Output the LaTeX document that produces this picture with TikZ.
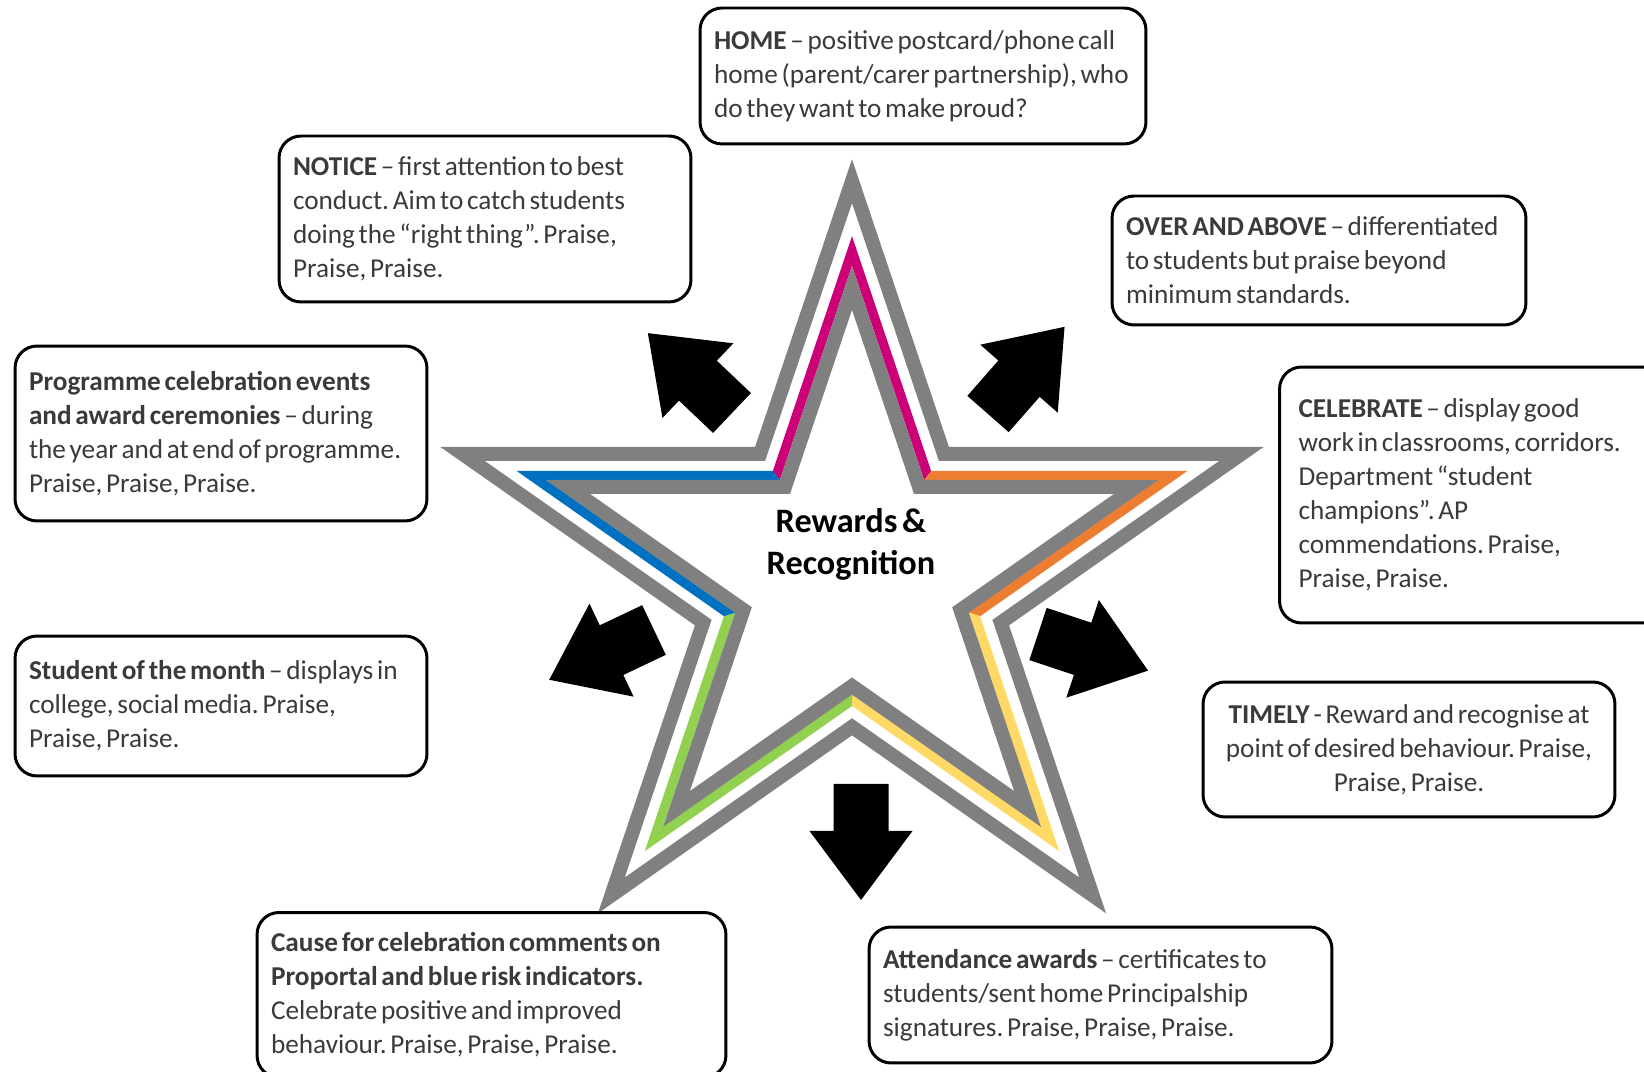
\documentclass[tikz,border=0pt]{standalone}
\usepackage{fontspec}
\setmainfont{Carlito}[WordSpace=0.6]
\frenchspacing
\hyphenpenalty=10000

\definecolor{starpink}{HTML}{CC0077}
\definecolor{starorange}{HTML}{ED7D31}
\definecolor{staryellow}{HTML}{FFD966}
\definecolor{stargreen}{HTML}{92D050}
\definecolor{starblue}{HTML}{0070C0}
\definecolor{stargrey}{HTML}{808080}
\definecolor{boxtext}{HTML}{3A3A3A}

\begin{document}
\begin{tikzpicture}[x=0.02cm,y=0.02cm]
\tikzset{
  infobox/.style={draw=black,line width=1.7pt,rounded corners=0.44cm,fill=white,align=flush left,inner xsep=0.28cm,inner ysep=0pt,text=boxtext,font={\fontsize{15.5}{19.4}\selectfont}},
  startext/.style={align=center,text=black,font={\fontsize{19.5}{23.8}\selectfont\bfseries}},
  starshape/.style={insert path={(90:#1) -- (126:{0.382*#1}) -- (162:#1) -- (198:{0.382*#1}) -- (234:#1) -- (270:{0.382*#1}) -- (306:#1) -- (342:{0.382*#1}) -- (18:#1) -- (54:{0.382*#1}) -- cycle}},
  starline/.style={draw=stargrey,line width=0.28cm,line join=miter},
  colourline/.style={draw=#1,line width=0.19cm,line join=miter},
  blockarrow/.style={fill=black,insert path={(0,-27.5) -- (47,-27.5) -- (47,-51.5) -- (116,0) -- (47,51.5) -- (47,27.5) -- (0,27.5) -- cycle}}
}
\fill[white] (0,0) rectangle (1644,1072);
\useasboundingbox (0,0) rectangle (1644,1072);
\begin{scope}[shift={(852,496)},xscale=1.037]
\draw[starline,starshape=394.8];
\foreach \tip/\col in {90/starpink,18/starorange,306/staryellow,234/stargreen,162/starblue}{
  \begin{scope}
    \clip (0,0) -- ({\tip-36}:700) -- (\tip:700) -- ({\tip+36}:700) -- cycle;
    \draw[colourline=\col,starshape=325];
  \end{scope}
}
\draw[starline,starshape=288];
\end{scope}
\fill[shift={(732,659)},rotate=136.5,blockarrow];
\fill[shift={(988,658)},rotate=48.7,blockarrow];
\fill[shift={(654,442)},rotate=205.4,blockarrow];
\fill[shift={(1038,438)},rotate=341.6,blockarrow];
\fill[shift={(861,288)},rotate=270,blockarrow];
\node[startext] (n_centre) at (851,528) {Rewards \&\\Recognition};
\node[infobox,minimum width=8.92cm,minimum height=2.72cm,text width=8.36cm] (n_home) at (923,996) {\textbf{HOME} – positive postcard/phone call\\home (parent/carer partnership), who\\do they want to make proud?};
\node[infobox,minimum width=8.24cm,minimum height=3.32cm,text width=7.68cm] (n_notice) at (485,853) {\textbf{NOTICE} – first attention to best\\conduct. Aim to catch students\\doing the “right thing”. Praise,\\Praise, Praise.};
\node[infobox,minimum width=8.28cm,minimum height=2.58cm,text width=7.72cm] (n_above) at (1319,811.5) {\textbf{OVER AND ABOVE} – differentiated\\to students but praise beyond\\minimum standards.};
\node[infobox,minimum width=8.24cm,minimum height=3.5cm,text width=7.68cm] (n_events) at (221,638.5) {\textbf{Programme celebration events}\\\textbf{and award ceremonies} – during\\the year and at end of programme.\\Praise, Praise, Praise.};
\node[infobox,inner xsep=0.38cm,minimum width=7.7cm,minimum height=5.12cm,text width=6.94cm] (n_celebrate) at (1472,577) {\textbf{CELEBRATE} – display good\\work in classrooms, corridors.\\Department “student\\champions”. AP\\commendations. Praise,\\Praise, Praise.};
\node[infobox,minimum width=8.24cm,minimum height=2.8cm,text width=7.68cm] (n_month) at (221,366) {\textbf{Student of the month} – displays in\\college, social media. Praise,\\Praise, Praise.};
\node[infobox,align=flush center,minimum width=8.24cm,minimum height=2.7cm,text width=7.68cm] (n_timely) at (1409,322.5) {\textbf{TIMELY} - Reward and recognise at\\point of desired behaviour. Praise,\\Praise, Praise.};
\node[infobox,minimum width=9.38cm,minimum height=3.3cm,text width=8.82cm] (n_cause) at (491.5,77) {\textbf{Cause for celebration comments on}\\\textbf{Proportal and blue risk indicators.}\\Celebrate positive and improved\\behaviour. Praise, Praise, Praise.};
\node[infobox,minimum width=9.26cm,minimum height=2.72cm,text width=8.7cm] (n_attend) at (1100.5,77) {\textbf{Attendance awards} – certificates to\\students/sent home Principalship\\signatures. Praise, Praise, Praise.};
\end{tikzpicture}
\end{document}
